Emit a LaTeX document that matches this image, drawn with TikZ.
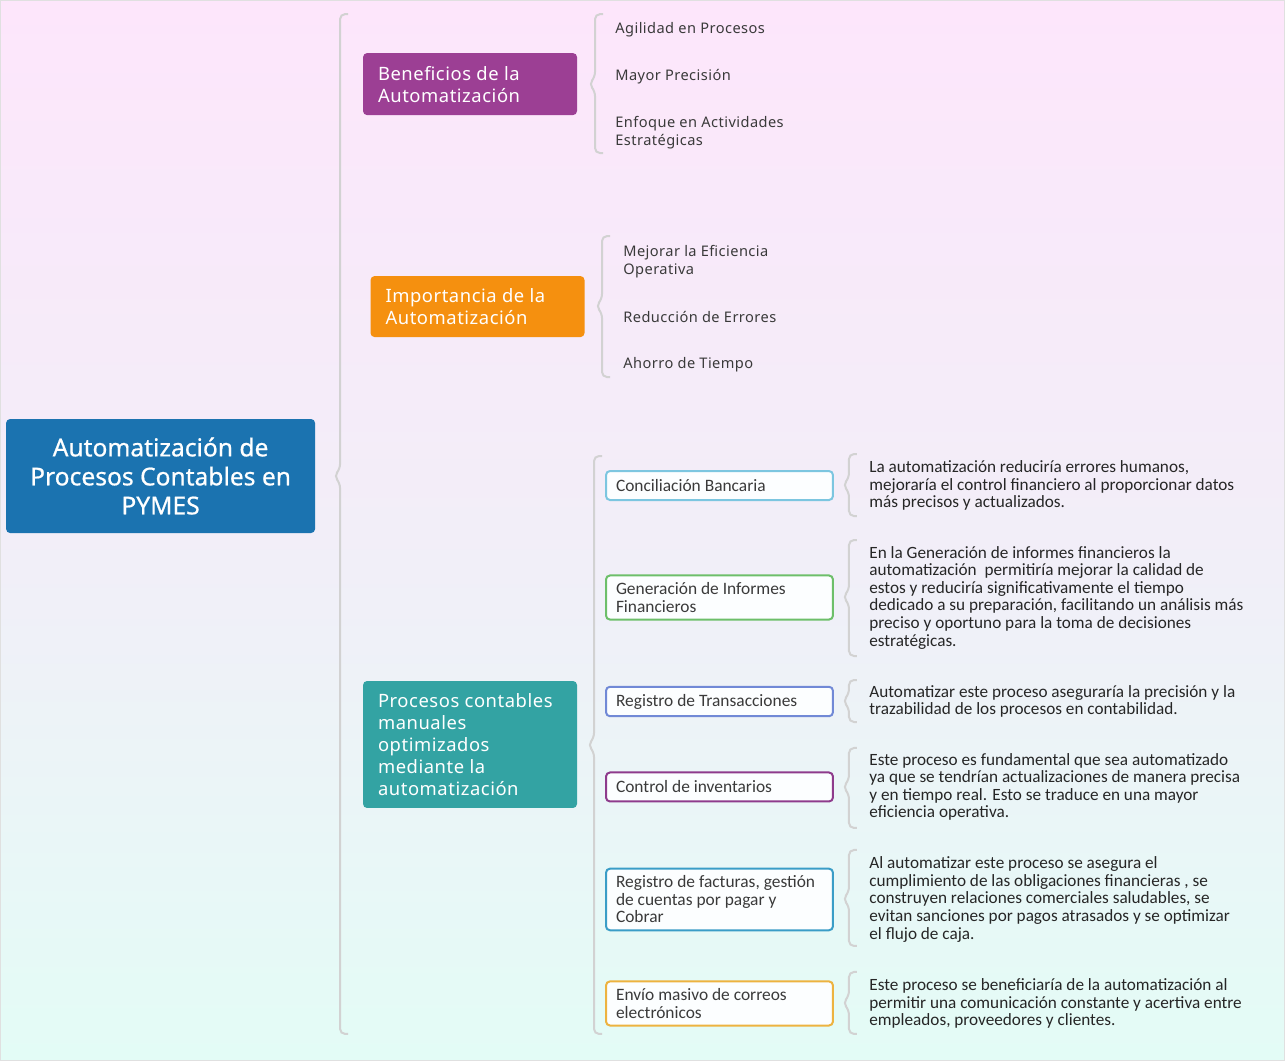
\documentclass[tikz,border=0pt]{standalone}
\usepackage{fontspec}
\setmainfont{Noto Sans}
\newfontfamily\carl{Carlito}
\newfontfamily\spaced[LetterSpace=3]{Noto Sans}
\newfontfamily\rootfont[FakeBold=0.7]{Noto Sans}
\usetikzlibrary{positioning}

\definecolor{bgtop}{HTML}{FDE6FB}
\definecolor{bgmid}{HTML}{F2EEF8}
\definecolor{bgbot}{HTML}{E3FCF6}
\definecolor{rootblue}{HTML}{1B73B0}
\definecolor{benpurple}{HTML}{9C3F94}
\definecolor{imporange}{HTML}{F5900F}
\definecolor{proteal}{HTML}{33A3A3}
\definecolor{bancob}{HTML}{7CC6E0}
\definecolor{informb}{HTML}{6DBF6A}
\definecolor{transb}{HTML}{7189D6}
\definecolor{invb}{HTML}{8E3B8C}
\definecolor{factb}{HTML}{3A9DC7}
\definecolor{mailb}{HTML}{EDB340}
\definecolor{brcgray}{HTML}{D2D2D2}
\definecolor{txtgray}{HTML}{3A3A3A}

% brace: x, top, notch, bottom
\newcommand{\brk}[4]{\draw[brc] (#1+8,#2) -- (#1,#2) -- (#1,#3-7) -- (#1-6,#3) -- (#1,#3+7) -- (#1,#4) -- (#1+8,#4);}

\begin{document}
\begin{tikzpicture}[x=0.5pt, y=-0.5pt, node distance=17.5pt]
\tikzset{
  root/.style ={rectangle, rounded corners=2pt, fill=rootblue, text=white, align=center, minimum width=154.5pt, minimum height=57pt, inner sep=0pt, font=\rootfont\fontsize{12.3}{14.5}\selectfont},
  topic/.style={rectangle, rounded corners=2pt, text=white, align=flush left, text width=92pt, inner xsep=7.5pt, inner ysep=5pt, minimum width=107pt, font=\spaced\fontsize{9.2}{11}\selectfont},
  leaf/.style ={anchor=west, inner sep=0pt, align=left, text=txtgray, font=\spaced\fontsize{7.3}{9}\selectfont},
  sub/.style  ={rectangle, rounded corners=2pt, draw, line width=1pt, fill=white!70!cyan!4, align=flush left, text width=103.5pt, inner xsep=5pt, inner ysep=3.6pt, minimum height=14.5pt, text=txtgray, font=\carl\fontsize{8.7}{8.75}\selectfont},
  note/.style ={inner sep=0pt, align=left, text=black!85, font=\carl\fontsize{8.6}{8.8}\selectfont},
  brc/.style  ={draw=brcgray, line width=1pt, rounded corners=2.5pt}
}
% background
\shade[top color=bgtop, bottom color=bgbot, middle color=bgmid] (0,0) rectangle (1285,1061);
\draw[black!12, line width=0.6pt] (0.5,0.5) rectangle (1284.5,1060.5);
\useasboundingbox (0,0) rectangle (1285,1061);

\node[root] (raiz) at (160.5,476) {Automatización de\\Procesos Contables en\\PYMES};

% beneficios
\node[topic, fill=benpurple, minimum height=31pt] (benef) at (470,84) {Beneficios de la\\Automatización};
\node[leaf] (agil) at (615,29.5)  {Agilidad en Procesos};
\node[leaf] (prec) at (615,76.5)  {Mayor Precisión};
\node[leaf] (enfq) at (615,132.5) {Enfoque en Actividades\\Estratégicas};

% importancia
\node[topic, fill=imporange, minimum height=30.5pt] (impor) at (477.5,306.5) {Importancia de la\\Automatización};
\node[leaf] (efic) at (623,261.5) {Mejorar la Eficiencia\\Operativa};
\node[leaf] (erro) at (623,316.5) {Reducción de Errores};
\node[leaf] (tiem) at (623,364.5) {Ahorro de Tiempo};

% procesos
\node[topic, fill=proteal, minimum height=63.5pt] (proc) at (470,744.5) {Procesos contables\\manuales\\optimizados\\mediante la\\automatización};
\node[sub, draw=bancob]  (banco) at (719.5,485.5) {Conciliación Bancaria};
\node[sub, draw=informb] (infor) at (719.5,597.5) {Generación de Informes\\Financieros};
\node[sub, draw=transb]  (trans) at (719.5,701.5) {Registro de Transacciones};
\node[sub, draw=invb]    (inven) at (719.5,787)   {Control de inventarios};
\node[sub, draw=factb]   (factu) at (719.5,899.5) {Registro de facturas, gestión\\de cuentas por pagar y\\Cobrar};
\node[sub, draw=mailb]   (corre) at (719.5,1003.5) {Envío masivo de correos\\electrónicos};

\node[note, right=of banco] (nbanco) {La automatización reduciría errores humanos,\\mejoraría el control financiero al proporcionar datos\\más precisos y actualizados.};
\node[note, right=of infor] (ninfor) {En la Generación de informes financieros la\\automatización\ \ permitiría mejorar la calidad de\\estos y reduciría significativamente el tiempo\\dedicado a su preparación, facilitando un análisis más\\preciso y oportuno para la toma de decisiones\\estratégicas.};
\node[note, right=of trans] (ntrans) {Automatizar este proceso aseguraría la precisión y la\\trazabilidad de los procesos en contabilidad.};
\node[note, right=of inven] (ninven) {Este proceso es fundamental que sea automatizado\\ya que se tendrían actualizaciones de manera precisa\\y en tiempo real. Esto se traduce en una mayor\\eficiencia operativa.};
\node[note, right=of factu] (nfactu) {Al automatizar este proceso se asegura el\\cumplimiento de las obligaciones financieras , se\\construyen relaciones comerciales saludables, se\\evitan sanciones por pagos atrasados y se optimizar\\el flujo de caja.};
\node[note, right=of corre] (ncorre) {Este proceso se beneficiaría de la automatización al\\permitir una comunicación constante y acertiva entre\\empleados, proveedores y clientes.};

% braces
\brk{340}{14}{476}{1034}
\brk{595}{14}{84}{153}
\brk{602}{236}{306}{377}
\brk{594}{456}{745}{1034}
\brk{849}{454}{485}{516}
\brk{849}{540}{597}{656}
\brk{849}{680}{701}{722}
\brk{849}{748}{787}{828}
\brk{849}{850}{899}{946}
\brk{849}{972}{1003}{1034}
\end{tikzpicture}
\end{document}
